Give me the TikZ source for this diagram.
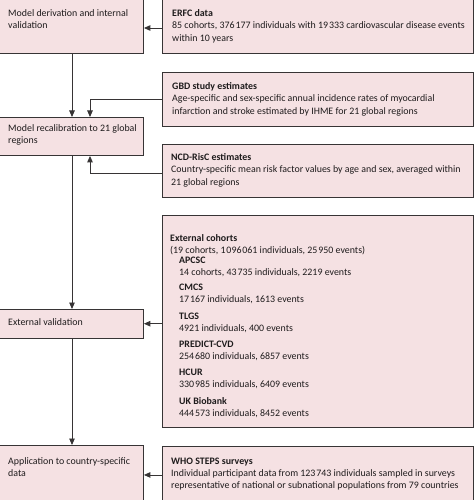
\documentclass[tikz,border=0pt]{standalone}
\usepackage{fontspec}
\setmainfont{Carlito}
\usetikzlibrary{arrows.meta}
\definecolor{boxfill}{RGB}{245,225,227}
\definecolor{boxline}{RGB}{55,52,53}
\definecolor{txt}{RGB}{30,27,28}
\newcommand{\ts}{\kern0.9pt}
\begin{document}
\begin{tikzpicture}[x=1pt,y=-1pt,
  box/.style={draw=boxline, fill=boxfill, line width=0.9pt, rectangle, inner sep=0pt, anchor=north west},
  lbl/.style={anchor=north west, inner sep=0pt, align=left, text=txt, font=\fontsize{9.9}{12.2}\selectfont},
  conn/.style={draw=boxline, line width=0.9pt, -{Triangle[length=6.5pt,width=5.5pt]}}]
\useasboundingbox (0,0) rectangle (474,500);
\clip (0,0) rectangle (474,500);
% boxes
\node[box, minimum width=144pt, minimum height=54pt] (deriv) at (-1,-1) {};
\node[box, minimum width=310.5pt, minimum height=54pt] (erfc) at (162,-1) {};
\node[box, minimum width=310.5pt, minimum height=53.5pt] (gbd) at (162,72) {};
\node[box, minimum width=144pt, minimum height=38pt] (recal) at (-1,117) {};
\node[box, minimum width=310.5pt, minimum height=53pt] (ncd) at (162,144) {};
\node[box, minimum width=310.5pt, minimum height=212pt] (extc) at (162,215) {};
\node[box, minimum width=144pt, minimum height=28.5pt] (extv) at (-1,309) {};
\node[box, minimum width=144pt, minimum height=58pt] (appl) at (-1,445) {};
\node[box, minimum width=310.5pt, minimum height=57pt] (who) at (162,446) {};
% texts
\node[lbl] (tderiv) at (8,9.5) {Model derivation and internal\\validation};
\node[lbl] (terfc) at (172,9.5) {\textbf{ERFC data}\\85 cohorts, 376\ts177 individuals with 19\ts333 cardiovascular disease events\\within 10 years};
\node[lbl] (tgbd) at (172,82.5) {\textbf{GBD study estimates}\\Age-specific and sex-specific annual incidence rates of myocardial\\infarction and stroke estimated by IHME for 21 global regions};
\node[lbl] (trecal) at (8,124.5) {Model recalibration to 21 global\\regions};
\node[lbl] (tncd) at (171,153.5) {\textbf{NCD-RisC estimates}\\Country-specific mean risk factor values by age and sex, averaged within\\21 global regions};
\node[lbl] (textc) at (170,234) {\textbf{External cohorts}\\(19 cohorts, 1\ts096\ts061 individuals, 25\ts950 events)};
\node[lbl] (tapcsc) at (179,256.5) {\textbf{APCSC}\\14 cohorts, 43\ts735 individuals, 2219 events};
\node[lbl] (tcmcs) at (179,283.5) {\textbf{CMCS}\\17\ts167 individuals, 1613 events};
\node[lbl] (ttlgs) at (179,312.5) {\textbf{TLGS}\\4921 individuals, 400 events};
\node[lbl] (tpred) at (179,340.5) {\textbf{PREDICT-CVD}\\254\ts680 individuals, 6857 events};
\node[lbl] (thcur) at (179,368.5) {\textbf{HCUR}\\330\ts985 individuals, 6409 events};
\node[lbl] (tukb) at (179,397.5) {\textbf{UK Biobank}\\444\ts573 individuals, 8452 events};
\node[lbl] (textv) at (8,318.5) {External validation};
\node[lbl] (tappl) at (8,457.5) {Application to country-specific\\data};
\node[lbl] (twho) at (171,457.5) {\textbf{WHO STEPS surveys}\\Individual participant data from 123\ts743 individuals sampled in surveys\\representative of national or subnational populations from 79 countries};
% connectors
\coordinate (m) at (72,0);
\coordinate (s) at (90,0);
\coordinate (e1) at (162,28);
\coordinate (e2) at (162,173);
\draw[conn] (erfc.west |- e1) -- (deriv.east |- e1);
\draw[conn] (m |- deriv.south) -- (m |- recal.north);
\draw[conn] (gbd.west) -| (s |- recal.north);
\draw[conn] (ncd.west |- e2) -| (s |- recal.south);
\draw[conn] (m |- recal.south) -- (m |- extv.north);
\draw[conn] (extc.west |- extv.east) -- (extv.east);
\draw[conn] (m |- extv.south) -- (m |- appl.north);
\draw[conn] (who.west) -- (appl.east |- who.west);
\end{tikzpicture}
\end{document}
